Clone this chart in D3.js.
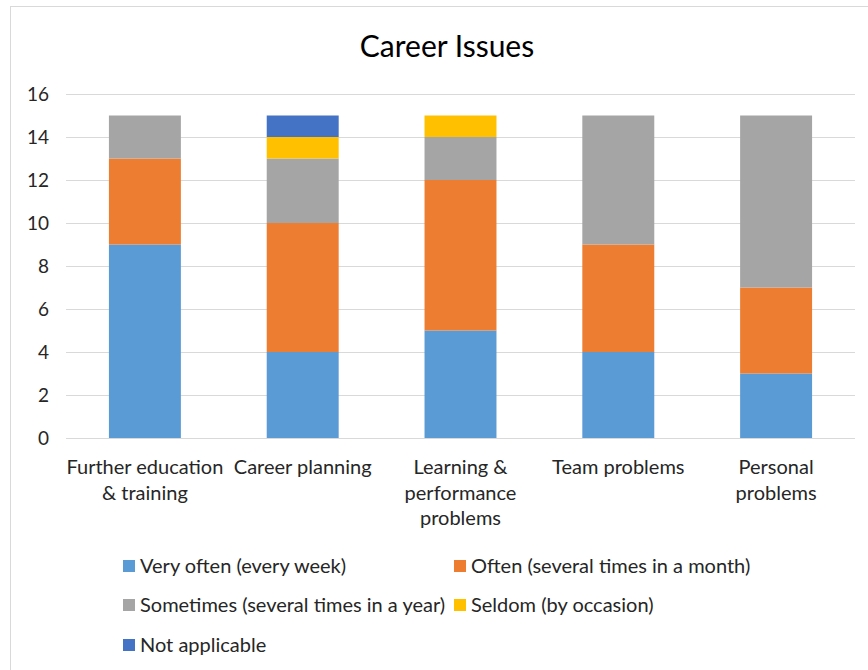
<!DOCTYPE html>
<html>
<head>
<meta charset="utf-8">
<script src="https://cdn.jsdelivr.net/npm/d3@7/dist/d3.min.js"></script>
<style>
  body { margin: 0; background: #fff; }
  text { font-family: Lato, "Open Sans", sans-serif; fill: #262626; }
</style>
</head>
<body>
<script>
// chart data
var categories = ["Further education & training", "Career planning", "Learning & performance problems", "Team problems", "Personal problems"];
// how the category labels wrap under the axis
var categoryLines = [
  ["Further education", "& training"],
  ["Career planning"],
  ["Learning &", "performance", "problems"],
  ["Team problems"],
  ["Personal", "problems"]
];
var seriesNames = ["Very often (every week)", "Often (several times in a month)", "Sometimes (several times in a year)", "Seldom (by occasion)", "Not applicable"];
var veryOften     = [9, 4, 5, 4, 3];
var often         = [4, 6, 7, 5, 4];
var sometimes     = [2, 3, 2, 6, 8];
var seldom        = [0, 1, 1, 0, 0];
var notApplicable = [0, 1, 0, 0, 0];
var yTicks = [0, 2, 4, 6, 8, 10, 12, 14, 16];

var colors = ["#5B9BD5", "#ED7D31", "#A5A5A5", "#FFC000", "#4472C4"];

var width = 868, height = 670;
var svg = d3.select("body").append("svg")
    .attr("width", width)
    .attr("height", height);

// outer frame of the chart
svg.append("rect")
    .attr("x", 10.5).attr("y", 6.5)
    .attr("width", 880).attr("height", 680)
    .attr("fill", "none")
    .attr("stroke", "#d9d9d9");

svg.append("text")
    .attr("x", 447).attr("y", 57)
    .attr("text-anchor", "middle")
    .style("font-size", "30px")
    .style("fill", "#000")
    .text("Career Issues");

var x = d3.scaleBand()
    .domain(categories)
    .range([66, 855])
    .paddingInner(0.544)
    .paddingOuter(0.272);

var y = d3.scaleLinear()
    .domain([0, 16])
    .range([438, 94]);

// gridlines
svg.append("g").selectAll("line")
    .data(yTicks)
    .enter().append("line")
    .attr("x1", 66).attr("x2", 855)
    .attr("y1", function(d) { return Math.round(y(d)) + 0.5; })
    .attr("y2", function(d) { return Math.round(y(d)) + 0.5; })
    .attr("stroke", "#d9d9d9")
    .attr("stroke-width", 1);

// y axis labels (no domain line)
var yAxis = svg.append("g")
    .attr("transform", "translate(49,0)")
    .call(d3.axisLeft(y).tickValues(yTicks).tickSize(0).tickPadding(0));
yAxis.select(".domain").remove();
yAxis.selectAll("text")
    .style("font-size", "19px")
    .style("font-family", "Lato, 'Open Sans', sans-serif")
    .attr("fill", "#262626");

// stacked bars
var rows = categories.map(function(c, i) {
  return { cat: c, s0: veryOften[i], s1: often[i], s2: sometimes[i], s3: seldom[i], s4: notApplicable[i] };
});
var stack = d3.stack().keys(["s0", "s1", "s2", "s3", "s4"]);
var layers = stack(rows);

svg.append("g").selectAll("g")
    .data(layers)
    .enter().append("g")
    .attr("fill", function(d, i) { return colors[i]; })
    .selectAll("rect")
    .data(function(d) { return d; })
    .enter().append("rect")
    .attr("x", function(d) { return x(d.data.cat); })
    .attr("width", x.bandwidth())
    .attr("y", function(d) { return y(d[1]); })
    .attr("height", function(d) { return y(d[0]) - y(d[1]); });

// category labels
var catG = svg.append("g");
categories.forEach(function(c, i) {
  var t = catG.append("text")
      .attr("x", x(c) + x.bandwidth() / 2)
      .attr("y", 474)
      .attr("text-anchor", "middle")
      .style("font-size", "20px");
  categoryLines[i].forEach(function(line, j) {
    t.append("tspan")
      .attr("x", x(c) + x.bandwidth() / 2)
      .attr("dy", j === 0 ? 0 : 25.5)
      .text(line);
  });
});

// legend
var legendPos = [[123, 566], [454, 566], [123, 605], [454, 605], [123, 645]];
var leg = svg.append("g").selectAll("g")
    .data(seriesNames)
    .enter().append("g")
    .attr("transform", function(d, i) { return "translate(" + legendPos[i][0] + "," + legendPos[i][1] + ")"; });
leg.append("rect")
    .attr("x", 0).attr("y", -6)
    .attr("width", 12).attr("height", 12)
    .attr("fill", function(d, i) { return colors[i]; });
leg.append("text")
    .attr("x", 17).attr("y", 7)
    .style("font-size", "20px")
    .text(function(d) { return d; });
</script>
</body>
</html>
